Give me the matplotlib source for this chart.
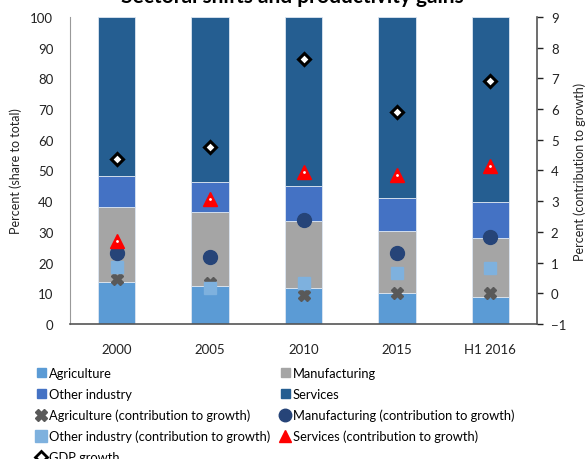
import matplotlib
matplotlib.use('agg')
import matplotlib.pyplot as plt
from matplotlib.patches import Patch
from matplotlib.lines import Line2D
import numpy as np

plt.rcParams['font.family'] = ['Lato', 'DejaVu Sans']

# data
periods = ["2000", "2005", "2010", "2015", "H1 2016"]
# share of total (percent), stacked
agriculture = [13.7, 12.4, 11.7, 10.1, 8.8]
manufacturing = [24.4, 24.1, 21.9, 20.2, 19.2]
other_industry = [10.1, 9.8, 11.4, 10.7, 11.7]
services = [51.8, 53.7, 55.0, 59.0, 60.3]
# contribution to growth (percentage points)
agri_contrib = [0.46, 0.33, -0.05, 0.0, 0.0]
manuf_contrib = [1.30, 1.17, 2.38, 1.31, 1.84]
other_contrib = [0.85, 0.16, 0.32, 0.66, 0.84]
serv_contrib = [1.69, 3.07, 3.95, 3.84, 4.15]
gdp_growth = [4.36, 4.77, 7.62, 5.90, 6.90]

c_agri = '#5B9BD5'
c_manuf = '#A5A5A5'
c_other = '#4472C4'
c_serv = '#255E91'

fig = plt.figure(figsize=(5.85, 4.6), dpi=100)
ax = fig.add_axes([0.1197, 0.2935, 0.7983, 0.6674])
ax2 = ax.twinx()

x = np.arange(len(periods))
w = 0.4
bottom = np.zeros(len(periods))
for vals, col in [(agriculture, c_agri), (manufacturing, c_manuf),
                  (other_industry, c_other), (services, c_serv)]:
    ax.bar(x, vals, w, bottom=bottom, color=col, edgecolor='#DCE6F2', linewidth=0.6, zorder=2)
    bottom += np.array(vals)

ax.set_xlim(-0.5, len(periods) - 0.5)
ax.set_ylim(0, 100)
ax.set_yticks(range(0, 101, 10))
ax.set_xticks(x)
ax.set_xticklabels(periods)
ax.tick_params(axis='y', length=0, labelsize=9.5, colors='#222222', pad=12)
ax.tick_params(axis='x', length=0, labelsize=9.5, colors='#222222', pad=14)
ax.set_ylabel('Percent (share to total)', fontsize=9, color='#222222', labelpad=6)
for s in ['top', 'right']:
    ax.spines[s].set_visible(False)
ax.spines['left'].set_color('#999999')
ax.spines['bottom'].set_color('#555555')
ax.spines['bottom'].set_linewidth(1.2)

ax2.set_ylim(-1, 9)
ax2.set_yticks(range(-1, 10))
ax2.tick_params(axis='y', length=4, width=1, labelsize=9.5, colors='#222222', direction='out', pad=6)
for t in ax2.get_yticklines():
    t.set_color('#555555')
ax2.set_ylabel('Percent (contribution to growth)', fontsize=9, color='#222222', rotation=90, labelpad=5)
for s in ['top', 'left', 'bottom']:
    ax2.spines[s].set_visible(False)
ax2.spines['right'].set_color('#555555')
ax2.spines['right'].set_linewidth(1.2)

ax2.plot(x, agri_contrib, linestyle='none', marker='X', markersize=9, color='#595959', zorder=3)
ax2.plot(x, other_contrib, linestyle='none', marker='s', markersize=9, color='#7EB1DE', zorder=3)
ax2.plot(x, manuf_contrib, linestyle='none', marker='o', markersize=10, color='#264478', zorder=3)
ax2.plot(x, serv_contrib, linestyle='none', marker='^', markersize=10, color='#FF0000', zorder=3)
ax2.plot(x, serv_contrib, linestyle='none', marker='.', markersize=2, color='white', zorder=4)
ax2.plot(x, gdp_growth, linestyle='none', marker='D', markersize=6.5, markerfacecolor='white',
         markeredgecolor='black', markeredgewidth=2.2, zorder=3)

# title sits mostly above the top edge, as in the reference crop
title = 'Sectoral shifts and productivity gains'
fig.text(0.5, 1 - 3 / 460, title, ha='center', va='baseline', fontsize=15, fontweight='bold')

h_agri = Patch(color=c_agri, label='Agriculture')
h_manuf = Patch(color=c_manuf, label='Manufacturing')
h_other = Patch(color=c_other, label='Other industry')
h_serv = Patch(color=c_serv, label='Services')
h_ac = Line2D([], [], linestyle='none', marker='X', markersize=8, color='#595959',
              label='Agriculture (contribution to growth)')
h_mc = Line2D([], [], linestyle='none', marker='o', markersize=9, color='#264478',
              label='Manufacturing (contribution to growth)')
h_oc = Line2D([], [], linestyle='none', marker='s', markersize=8, color='#7EB1DE',
              label='Other industry (contribution to growth)')
h_sc = Line2D([], [], linestyle='none', marker='^', markersize=9, color='#FF0000',
              label='Services (contribution to growth)')
h_gdp = Line2D([], [], linestyle='none', marker='D', markersize=6, markerfacecolor='white',
               markeredgecolor='black', markeredgewidth=2, label='GDP growth')

handles = [h_agri, h_other, h_ac, h_oc, h_gdp, h_manuf, h_serv, h_mc, h_sc]
fig.legend(handles=handles, loc='upper left', bbox_to_anchor=(0.063, 0.2), ncol=2,
           frameon=False, fontsize=9.3, handlelength=0.7, handleheight=0.7, handletextpad=0.25,
           labelspacing=0.68, columnspacing=0.8, borderaxespad=0, borderpad=0)

fig.savefig('out.png', dpi=100)
